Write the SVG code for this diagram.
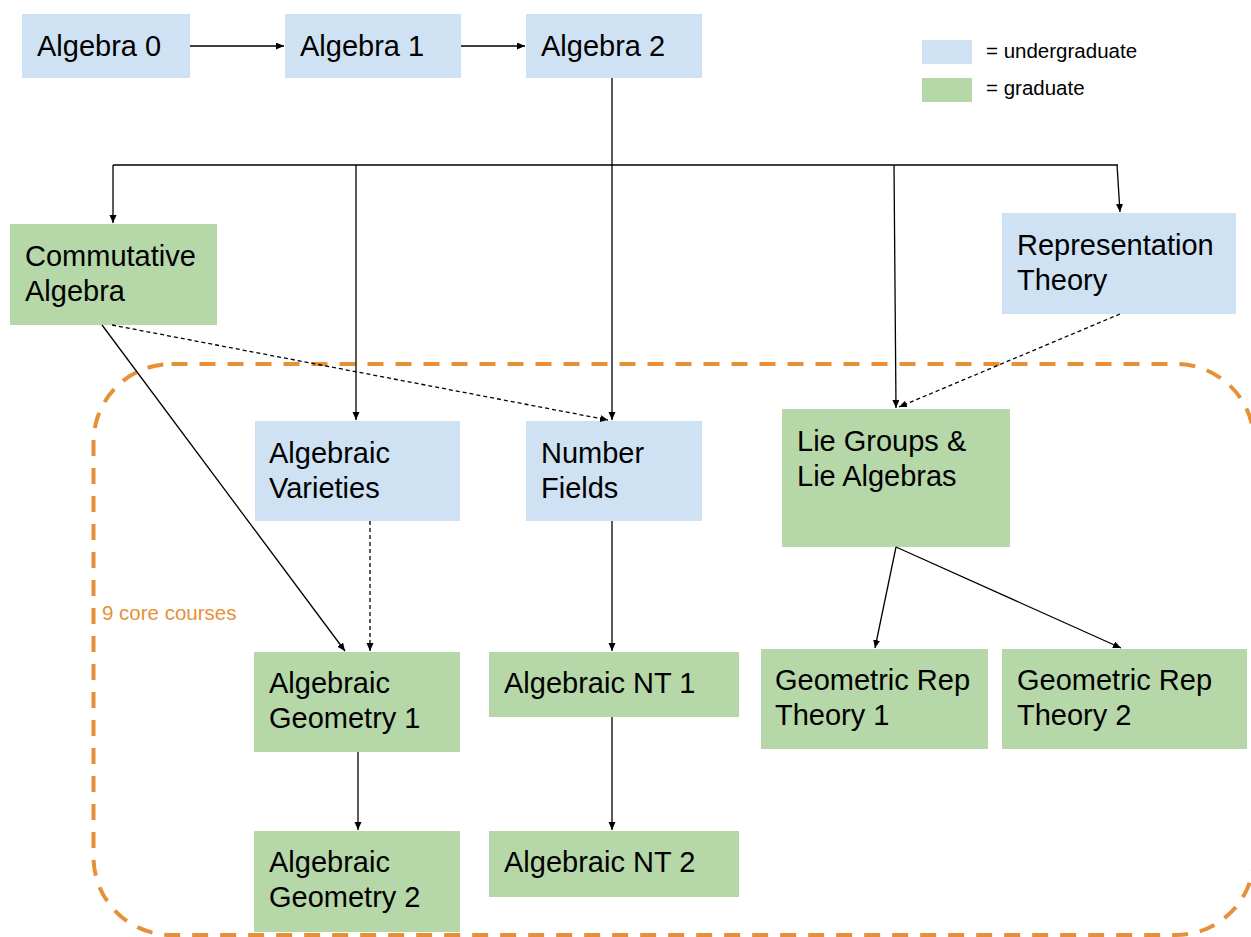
<svg xmlns="http://www.w3.org/2000/svg" width="1251" height="937" viewBox="0 0 1251 937">
<defs>
<marker id="ah" markerUnits="userSpaceOnUse" markerWidth="9" markerHeight="8" refX="8" refY="3.5" orient="auto">
<path d="M0,0 L8,3.5 L0,7 z" fill="#000"/>
</marker>
<style>
.ug{fill:#cfe2f3}
.gr{fill:#b6d7a8}
.t{font-family:"Liberation Sans",Arial,sans-serif;font-size:29px;fill:#000}
.lg{font-family:"Liberation Sans",Arial,sans-serif;font-size:20.5px;fill:#000}
.c{fill:none;stroke:#000;stroke-width:1.3}
.a{marker-end:url(#ah)}
.d{stroke-dasharray:4 3}
</style>
</defs>
<rect width="1251" height="937" fill="#fff"/>
<g id="core-region">
<rect x="93.5" y="364" width="1160.5" height="571" rx="78" ry="78" fill="none" stroke="#e69138" stroke-width="4" stroke-dasharray="16 12"/>
<text x="102" y="620" font-family="Liberation Sans, Arial, sans-serif" font-size="20.5" fill="#e69138">9 core courses</text>
</g>
<g id="legend">
<rect class="ug" x="922" y="40" width="50" height="24"/>
<rect class="gr" x="922" y="78" width="50" height="24"/>
<text class="lg" x="986" y="58">= undergraduate</text>
<text class="lg" x="986" y="95">= graduate</text>
</g>
<g id="algebra0"><rect class="ug" x="22" y="14" width="168" height="64"/><text class="t" x="37" y="56">Algebra 0</text></g>
<g id="algebra1"><rect class="ug" x="285" y="14" width="176" height="64"/><text class="t" x="300" y="56">Algebra 1</text></g>
<g id="algebra2"><rect class="ug" x="526" y="14" width="176" height="64"/><text class="t" x="541" y="56">Algebra 2</text></g>
<g id="commutative"><rect class="gr" x="10" y="224" width="207" height="101"/><text class="t" x="25" y="266">Commutative</text><text class="t" x="25" y="301">Algebra</text></g>
<g id="reptheory"><rect class="ug" x="1002" y="213" width="234" height="101"/><text class="t" x="1017" y="255">Representation</text><text class="t" x="1017" y="290">Theory</text></g>
<g id="varieties"><rect class="ug" x="255" y="421" width="205" height="100"/><text class="t" x="269" y="463">Algebraic</text><text class="t" x="269" y="498">Varieties</text></g>
<g id="numberfields"><rect class="ug" x="526" y="421" width="176" height="100"/><text class="t" x="541" y="463">Number</text><text class="t" x="541" y="498">Fields</text></g>
<g id="lie"><rect class="gr" x="782" y="409" width="228" height="138"/><text class="t" x="797" y="451">Lie Groups &amp;</text><text class="t" x="797" y="486">Lie Algebras</text></g>
<g id="ag1"><rect class="gr" x="254" y="652" width="206" height="100"/><text class="t" x="269" y="693">Algebraic</text><text class="t" x="269" y="728">Geometry 1</text></g>
<g id="nt1"><rect class="gr" x="489" y="652" width="250" height="65"/><text class="t" x="504" y="693">Algebraic NT 1</text></g>
<g id="grt1"><rect class="gr" x="761" y="649" width="227" height="100"/><text class="t" x="775" y="690">Geometric Rep</text><text class="t" x="775" y="725">Theory 1</text></g>
<g id="grt2"><rect class="gr" x="1002" y="649" width="245" height="100"/><text class="t" x="1017" y="690">Geometric Rep</text><text class="t" x="1017" y="725">Theory 2</text></g>
<g id="ag2"><rect class="gr" x="254" y="831" width="206" height="101"/><text class="t" x="269" y="872">Algebraic</text><text class="t" x="269" y="907">Geometry 2</text></g>
<g id="nt2"><rect class="gr" x="489" y="831" width="250" height="66"/><text class="t" x="504" y="872">Algebraic NT 2</text></g>
<g id="connectors">
<path class="c a" d="M190,46 H284"/>
<path class="c a" d="M461,46 H525"/>
<path class="c a" d="M612,78 V420"/>
<path class="c" d="M113,165 H1118"/>
<path class="c a" d="M113,165 V223"/>
<path class="c a" d="M356,165 V420"/>
<path class="c a" d="M894,165 L896,408"/>
<path class="c a" d="M1117,165 L1120,212"/>
<path class="c d a" d="M112,325 L608,420"/>
<path class="c a" d="M102,325 L345,651"/>
<path class="c d a" d="M370,521 V651"/>
<path class="c d a" d="M1120,314 L899,407"/>
<path class="c a" d="M612,521 V651"/>
<path class="c a" d="M358,752 V830"/>
<path class="c a" d="M612,717 V830"/>
<path class="c a" d="M896,547 L875,648"/>
<path class="c a" d="M896,547 L1121,648"/>
</g>
</svg>
